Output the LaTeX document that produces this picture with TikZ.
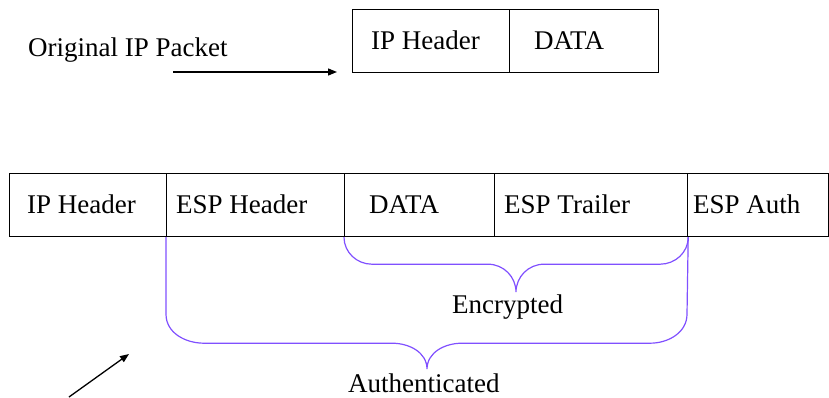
\documentclass[tikz,border=0pt]{standalone}
\usepackage{fontspec}
\setmainfont{Liberation Serif}
\usetikzlibrary{arrows.meta}
\definecolor{bracecol}{RGB}{128,80,255}
\tikzset{
  cell/.style={draw=black, line width=1.2pt, inner sep=0pt, anchor=north west, minimum height=63pt},
  lbl/.style={anchor=base west, inner sep=0pt, font=\fontsize{27}{32}\selectfont},
  brace/.style={draw=bracecol, line width=1.2pt},
  arr/.style={draw=black, line width=1.3pt, -{Triangle[length=9pt,width=7pt]}}
}
\begin{document}
\begin{tikzpicture}[x=1pt,y=-1pt]
\useasboundingbox (0,0) rectangle (829,398);
% top packet
\node[cell, minimum width=157pt] (tip) at (352,9) {};
\node[cell, minimum width=149pt] (tdata) at (509,9) {};
\node[lbl] (tiplbl) at (371,50) {IP Header};
\node[lbl] (tdatalbl) at (534,50) {DATA};
\node[lbl] (orig) at (28,57) {Original IP Packet};
\coordinate (a1s) at (173,72);
\coordinate (a1e) at (337,72);
\draw[arr] (a1s) -- (a1e);
% bottom packet
\node[cell, minimum width=157pt] (bip) at (9,173) {};
\node[cell, minimum width=178pt] (besp) at (166,173) {};
\node[cell, minimum width=150pt] (bdat) at (344,173) {};
\node[cell, minimum width=193pt] (btr) at (494,173) {};
\node[cell, minimum width=141pt] (bauth) at (687,173) {};
\node[lbl] at (27,213) (l1) {IP Header};
\node[lbl] at (176,213) (l2) {ESP Header};
\node[lbl] at (369,213) (l3) {DATA};
\node[lbl] at (504,213) (l4) {ESP Trailer};
\node[lbl] at (693,213) (l5) {ESP Auth};
% braces
\draw[brace] (bdat.south west) to[out=-90,in=180] ++(28,27) -- ++(116,0)
  to[out=0,in=90] ++(28,28) to[out=90,in=180] ++(28,-28) -- ++(116,0)
  to[out=0,in=-90] (btr.south east);
\draw[brace] (besp.south west) -- ++(0,77) to[out=-90,in=180] ++(38,29) -- ++(188,0)
  to[out=0,in=90] ++(35,26) to[out=90,in=180] ++(35,-26) -- ++(188,0)
  to[out=0,in=-90] ++(37,-29) -- (btr.south east);
\node[lbl] (enc) at (452,313) {Encrypted};
\node[lbl] (authd) at (348,392) {Authenticated};
% diagonal arrow
\coordinate (a2s) at (69,397);
\coordinate (a2e) at (129,354);
\draw[arr] (a2s) -- (a2e);
\end{tikzpicture}
\end{document}
